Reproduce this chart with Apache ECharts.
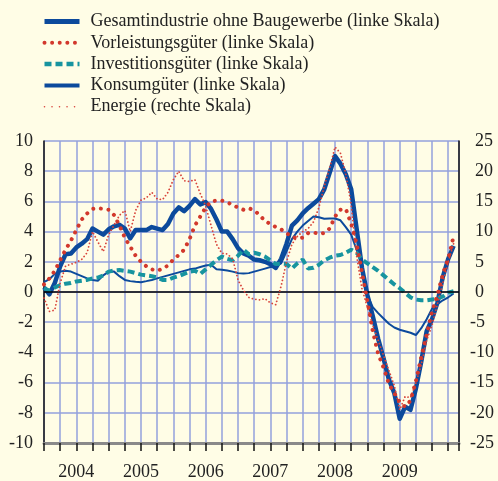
<!DOCTYPE html>
<html>
<head>
<meta charset="utf-8">
<title>Produktion</title>
<script src="https://cdn.jsdelivr.net/npm/echarts@6/dist/echarts.min.js"></script>
<style>
  html, body { margin: 0; padding: 0; background: #fffde6; }
  #chart { width: 498px; height: 481px; }
</style>
</head>
<body>
<div id="chart"></div>
<script>
// monthly values, Jan 2004 .. May 2010 (x = month index from Jan 2004)
const startYear = 2004;
const seriesNames = [
  'Gesamtindustrie ohne Baugewerbe (linke Skala)',
  'Vorleistungsgüter (linke Skala)',
  'Investitionsgüter (linke Skala)',
  'Konsumgüter (linke Skala)',
  'Energie (rechte Skala)'
];
const gesamt = [
  0.3, -0.15, 0.6, 1.7, 2.5, 2.55, 2.95, 3.2, 3.5, 4.2, 4.0, 3.8,
  4.15, 4.35, 4.45, 4.2, 3.55, 4.1, 4.1, 4.1, 4.3, 4.2, 4.1, 4.5,
  5.2, 5.6, 5.35, 5.7, 6.15, 5.8, 5.95, 5.5, 4.8, 4.0, 4.0, 3.5,
  2.9, 2.55, 2.4, 2.15, 2.1, 2.0, 1.85, 1.6, 2.2, 3.2, 4.4, 4.75,
  5.2, 5.55, 5.85, 6.15, 6.8, 7.9, 9.0, 8.5, 7.8, 6.8, 4.2, 1.6,
  -0.2, -1.6, -3.1, -4.4, -5.8, -6.7, -8.4, -7.6, -7.8, -6.4, -4.6, -2.6,
  -1.8, -0.7, 1.0, 2.2, 3.05
];
const vorleistung = [
  0.5, 0.9, 1.4, 2.1, 2.8, 3.4, 4.1, 4.8, 5.2, 5.5, 5.55, 5.5,
  5.45, 5.1, 4.4, 3.6, 3.0, 2.4, 2.0, 1.7, 1.5, 1.4, 1.55, 1.75,
  2.15, 2.45, 2.8, 3.5, 4.4, 5.0, 5.6, 6.0, 6.05, 6.05, 5.95, 5.75,
  5.6, 5.45, 5.55, 5.4, 5.1, 4.7, 4.5, 4.3, 4.15, 3.9, 3.65, 3.55,
  3.6, 3.9, 3.95, 3.85, 3.9, 4.2, 5.0, 5.45, 5.5, 4.5, 3.2, 1.3,
  -0.6, -2.6, -4.1, -5.0, -6.1, -6.7, -7.3, -7.6, -7.2, -5.9, -4.3, -2.8,
  -1.3, -0.2, 1.2, 2.2, 3.7
];
const invest = [
  0.25, 0.1, 0.3, 0.45, 0.55, 0.6, 0.7, 0.75, 0.8, 0.9, 0.95, 1.1,
  1.35, 1.42, 1.45, 1.4, 1.35, 1.25, 1.15, 1.1, 1.05, 0.95, 0.8, 0.8,
  0.95, 1.05, 1.2, 1.35, 1.4, 1.2, 1.5, 1.8, 2.1, 2.35, 2.2, 2.1,
  2.4, 2.8, 2.5, 2.6, 2.5, 2.35, 2.1, 1.85, 1.88, 1.85, 1.55, 1.9,
  2.15, 1.55, 1.6, 1.8, 2.1, 2.27, 2.4, 2.45, 2.6, 2.8, 2.6, 2.15,
  1.9, 1.65, 1.4, 1.1, 0.8, 0.5, 0.25, -0.05, -0.35, -0.5, -0.55, -0.55,
  -0.5, -0.45, -0.3, -0.05, 0.05
];
const konsum = [
  0.65, 0.85, 1.2, 1.35, 1.4, 1.35, 1.2, 1.05, 0.9, 0.8, 0.75, 1.1,
  1.35, 1.35, 1.05, 0.8, 0.72, 0.68, 0.65, 0.72, 0.8, 0.9, 1.0, 1.1,
  1.2, 1.3, 1.4, 1.5, 1.55, 1.65, 1.75, 1.8, 1.5, 1.48, 1.42, 1.35,
  1.25, 1.22, 1.25, 1.35, 1.45, 1.55, 1.65, 1.7, 1.9, 2.7, 3.5, 4.0,
  4.4, 4.7, 5.0, 4.95, 4.85, 4.87, 4.87, 4.75, 4.3, 3.8, 2.8, 1.8,
  -0.2, -1.0, -1.4, -1.75, -2.1, -2.35, -2.5, -2.6, -2.7, -2.85, -2.4, -1.8,
  -1.1, -0.8, -0.55, -0.35, -0.1
];
const energie = [
  -1.0, -3.2, -3.0, 1.5, 4.3, 4.6, 4.9, 5.4, 6.5, 10.0, 8.3, 6.7,
  9.5, 11.1, 12.7, 13.5, 10.0, 13.5, 15.2, 15.6, 16.5, 15.4, 15.3, 16.5,
  18.6, 20.0, 18.4, 18.3, 18.6, 16.3, 14.2, 11.0, 7.9, 6.4, 6.3, 5.5,
  2.0, 0.3, -0.9, -1.2, -1.3, -1.1, -1.8, -2.1, 1.0, 5.0, 7.9, 9.2,
  10.0, 10.5, 11.6, 14.0, 17.5, 20.5, 24.0, 23.0, 19.5, 14.5, 6.0, 0.5,
  -2.5, -5.5, -8.0, -10.5, -13.0, -15.5, -19.5, -17.3, -17.5, -15.0, -12.0, -8.0,
  -5.5, -2.0, 1.5, 5.0, 8.0
];

const serif = '"Liberation Serif", "Times New Roman", serif';
const blue = '#0c4a9c';
const red = '#d2382c';
const lightRed = '#d8433a';
const teal = '#17949f';
const gridColor = '#93a1dc';

function pairs(arr) {
  return arr.map((v, i) => [i, v]);
}

const chart = echarts.init(document.getElementById('chart'));
chart.setOption({
  animation: false,
  backgroundColor: '#fffde6',
  textStyle: { fontFamily: serif },
  legend: {
    orient: 'vertical',
    left: 37,
    top: 7.5,
    itemWidth: 35,
    itemHeight: 14,
    itemGap: 3.3,
    selectedMode: false,
    itemStyle: { opacity: 0 },
    textStyle: { fontFamily: serif, fontSize: 18, color: '#222', padding: [0, 0, 0, 6] },
    data: [
      { name: seriesNames[0], lineStyle: { width: 5 } },
      { name: seriesNames[1], lineStyle: { width: 4, cap: 'round' } },
      { name: seriesNames[2], lineStyle: { width: 4.5 } },
      { name: seriesNames[3], lineStyle: { width: 4 } },
      { name: seriesNames[4], lineStyle: { width: 1.6, type: [0.01, 7.5], cap: 'round' } }
    ]
  },
  grid: { left: 44, right: 39, top: 141, bottom: 32 },
  xAxis: {
    type: 'value',
    min: 0,
    max: 77,
    interval: 3,
    axisLine: { onZero: false, lineStyle: { color: '#8a8a8a', width: 3 } },
    axisTick: { length: 8, lineStyle: { color: '#111', width: 1.5 } },
    splitLine: { show: true, lineStyle: { color: gridColor, width: 1.5 } },
    axisLabel: {
      margin: 20,
      fontFamily: serif,
      fontSize: 18,
      color: '#222',
      formatter: function (v) {
        return (v % 12 === 6) ? String(startYear + (v - 6) / 12) : '';
      }
    }
  },
  yAxis: [{
    type: 'value',
    min: -10,
    max: 10,
    interval: 2,
    axisLine: { show: true, onZero: false, lineStyle: { color: '#111', width: 1.5 } },
    axisTick: { show: false },
    splitLine: { show: true, lineStyle: { color: gridColor, width: 1.5 } },
    axisLabel: { margin: 11, fontFamily: serif, fontSize: 18, color: '#222' }
  }, {
    type: 'value',
    min: -25,
    max: 25,
    interval: 5,
    position: 'right',
    axisLine: { show: true, onZero: false, lineStyle: { color: '#111', width: 1.5 } },
    axisTick: { show: false },
    splitLine: { show: false },
    axisLabel: {
      margin: 11,
      fontFamily: serif,
      fontSize: 18,
      color: '#222',
      formatter: function (v) { return v < 0 ? String(v) : '{p|' + v + '}'; },
      rich: { p: { fontFamily: serif, fontSize: 18, color: '#222', padding: [0, 0, 0, 5] } }
    }
  }],
  series: [{
    name: seriesNames[0],
    type: 'line',
    data: pairs(gesamt),
    symbol: 'none',
    z: 3,
    lineStyle: { color: blue, width: 4.5, join: 'round' },
    itemStyle: { color: blue },
    markLine: {
      silent: true,
      symbol: 'none',
      label: { show: false },
      lineStyle: { color: '#000', width: 1.5, type: 'solid' },
      data: [{ yAxis: 0 }]
    }
  }, {
    name: seriesNames[1],
    type: 'line',
    data: pairs(vorleistung),
    symbol: 'none',
    z: 6,
    lineStyle: { color: red, width: 4, type: [0.01, 7.6], cap: 'round' },
    itemStyle: { color: red }
  }, {
    name: seriesNames[2],
    type: 'line',
    data: pairs(invest),
    symbol: 'none',
    z: 4,
    lineStyle: { color: teal, width: 4, type: [7, 4] },
    itemStyle: { color: teal }
  }, {
    name: seriesNames[3],
    type: 'line',
    data: pairs(konsum),
    symbol: 'none',
    z: 2,
    lineStyle: { color: blue, width: 2 },
    itemStyle: { color: blue }
  }, {
    name: seriesNames[4],
    type: 'line',
    yAxisIndex: 1,
    data: pairs(energie),
    symbol: 'none',
    z: 5,
    lineStyle: { color: lightRed, width: 1.8, type: [0.01, 3.6], cap: 'round' },
    itemStyle: { color: lightRed }
  }]
});
</script>
</body>
</html>
